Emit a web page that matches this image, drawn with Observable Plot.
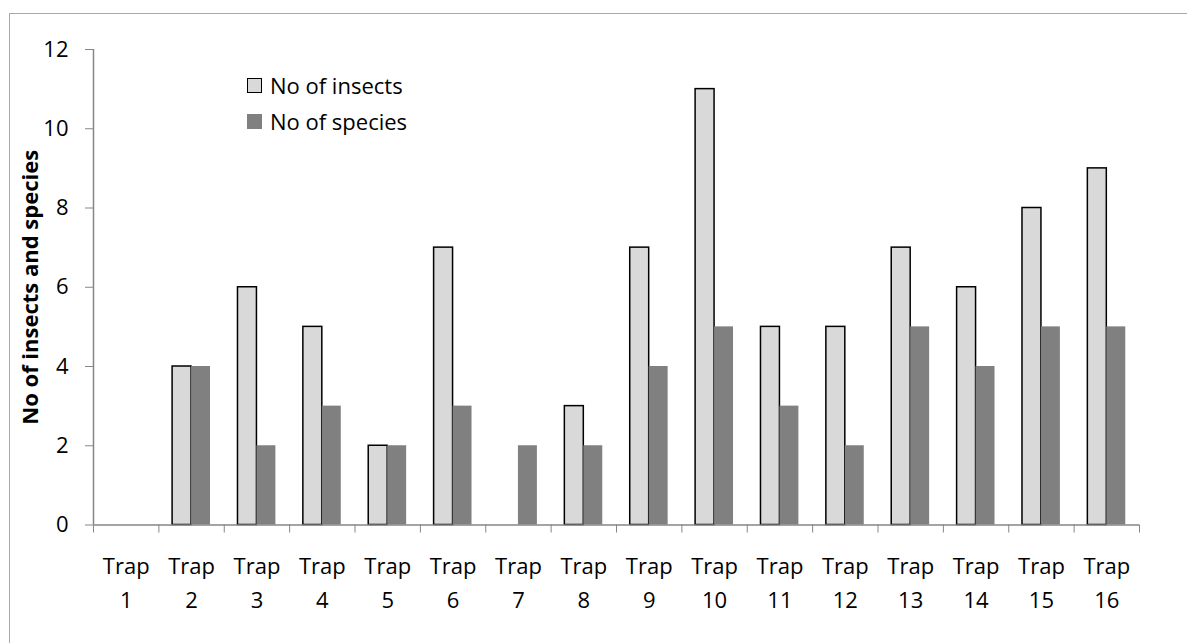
<!DOCTYPE html>
<html>
<head>
<meta charset="utf-8">
<script src="https://cdn.jsdelivr.net/npm/d3@7"></script>
<script src="https://cdn.jsdelivr.net/npm/@observablehq/plot@0.6"></script>
<style>
  html, body { margin: 0; padding: 0; background: #fff; overflow: hidden; }
  #wrap { position: relative; width: 1187px; height: 643px; font-family: "Open Sans", sans-serif; }
  #border { position: absolute; left: 9px; top: 13px; width: 1300px; height: 800px;
            border-top: 1.5px solid #a9a9a9; border-left: 1.5px solid #a9a9a9; pointer-events: none; }
  #legend { position: absolute; left: 247px; top: 67px; font-size: 22px; color: #000; line-height: 36px; }
  #legend .item { display: flex; align-items: center; height: 36px; }
  #legend .sw { width: 15px; height: 15px; box-sizing: border-box; margin-right: 8px; }
  #chart { position: absolute; left: 0; top: 0; }
</style>
</head>
<body>
<div id="wrap">
  <div id="border"></div>
  <div id="chart"></div>
  <div id="legend"></div>
</div>
<script>
// Trap names and counts
const traps = ["Trap 1", "Trap 2", "Trap 3", "Trap 4", "Trap 5", "Trap 6", "Trap 7", "Trap 8",
               "Trap 9", "Trap 10", "Trap 11", "Trap 12", "Trap 13", "Trap 14", "Trap 15", "Trap 16"];
const insects = [0, 4, 6, 5, 2, 7, 0, 3, 7, 11, 5, 5, 7, 6, 8, 9];
const species = [0, 4, 2, 3, 2, 3, 2, 2, 4, 5, 3, 2, 5, 4, 5, 5];
const seriesNames = ["No of insects", "No of species"];
const yTicks = [0, 2, 4, 6, 8, 10, 12];
const yTitle = "No of insects and species";

const fills = {"No of insects": "#d9d9d9", "No of species": "#808080"};
const strokes = {"No of insects": "#000", "No of species": "none"};

// Long table: one row per trap and series
const rows = [];
traps.forEach((t, i) => {
  rows.push({trap: t, index: i, series: seriesNames[0], value: insects[i]});
  rows.push({trap: t, index: i, series: seriesNames[1], value: species[i]});
});

// Each category slot is one unit wide; two bars share it with a gap around them
const bar = 0.29;
const lead = (1 - 2 * bar) / 2;
const slot = d => d.series === seriesNames[0] ? 0 : 1;

const axisGray = "#868686";

const chart = Plot.plot({
  width: 1187,
  height: 643,
  marginLeft: 93,
  marginTop: 49,
  marginBottom: 118.5,
  marginRight: 48,
  style: {fontFamily: "'Open Sans', sans-serif", fontSize: "22px", background: "transparent", color: "#000"},
  x: {domain: [0, traps.length]},
  y: {domain: [0, 12]},
  marks: [
    Plot.rectY(rows.filter(d => d.value > 0), {
      x1: d => d.index + lead + slot(d) * bar,
      x2: d => d.index + lead + (slot(d) + 1) * bar,
      y1: 0,
      y2: "value",
      fill: d => fills[d.series],
      stroke: d => strokes[d.series],
      strokeWidth: 1.5
    }),
    // axis lines
    Plot.ruleY([0], {stroke: axisGray, strokeWidth: 1.5}),
    Plot.ruleX([0], {stroke: axisGray, strokeWidth: 1.5}),
    // y axis ticks and labels
    Plot.axisY({ticks: yTicks, tickSize: 8, tickPadding: 17, stroke: axisGray, strokeOpacity: 1,
                tickFormat: d => String(d), fontSize: 22, label: null}),
    // category boundary ticks on the x axis
    Plot.axisX({ticks: d3.range(traps.length + 1), tickSize: 8, tickFormat: () => "",
                stroke: axisGray, strokeOpacity: 1, label: null}),
    // two-line category labels
    Plot.text(traps, {
      x: (d, i) => i + 0.5,
      y: 0,
      text: d => d.replace(" ", "\n"),
      lineAnchor: "top",
      lineHeight: 1.52,
      dy: 25.5,
      fontSize: 22,
      fill: "#000"
    }),
    // y axis title
    Plot.text([yTitle], {
      frameAnchor: "left",
      textAnchor: "middle",
      lineAnchor: "middle",
      rotate: -90,
      dx: -63,
      text: d => d,
      fontSize: 22,
      fontWeight: "bold",
      fill: "#000"
    })
  ]
});
document.getElementById("chart").appendChild(chart);

// Legend inside the plot area
const legend = document.getElementById("legend");
seriesNames.forEach(name => {
  const item = document.createElement("div");
  item.className = "item";
  const sw = document.createElement("span");
  sw.className = "sw";
  sw.style.background = fills[name];
  if (strokes[name] !== "none") sw.style.border = "1.5px solid " + strokes[name];
  const label = document.createElement("span");
  label.textContent = name;
  item.appendChild(sw);
  item.appendChild(label);
  legend.appendChild(item);
});
</script>
</body>
</html>
